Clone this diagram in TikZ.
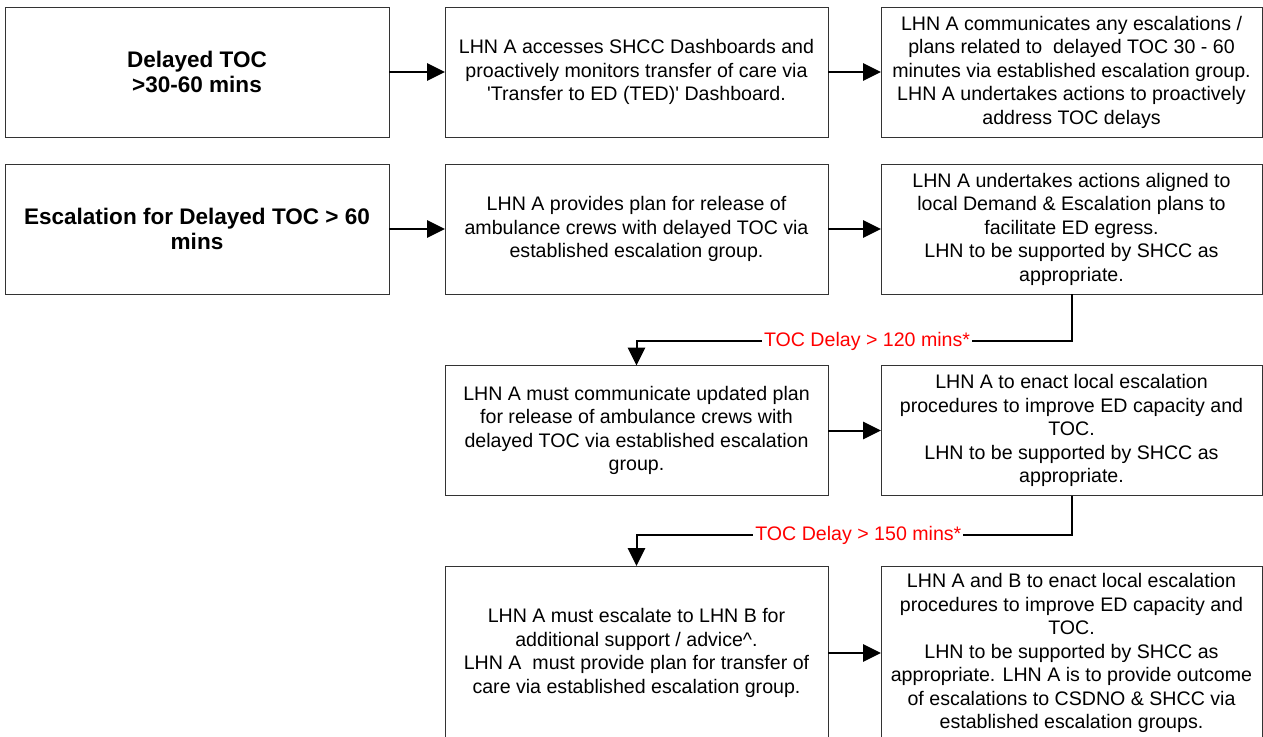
\documentclass[tikz,border=0pt]{standalone}
\usepackage{fontspec}
\setmainfont{Liberation Sans}
\usetikzlibrary{calc}
\usetikzlibrary{arrows.meta}

\begin{document}
\begin{tikzpicture}[x=0.75pt,y=-0.75pt]
    \tikzstyle{box}=[draw=black!80,line width=0.75pt,outer sep=0pt,align=center,minimum height=97.5pt,font=\fontsize{14.7}{17.6}\selectfont]
    \tikzstyle{head box}=[box,font=\fontsize{16.9}{19.3}\selectfont\bfseries]
    \tikzstyle{col one}=[minimum width=288pt]
    \tikzstyle{col two}=[minimum width=287.25pt]
    \tikzstyle{col three}=[minimum width=285.75pt]
    \tikzstyle{tall}=[minimum height=130.5pt]
    \tikzstyle{flow}=[-{Triangle[length=13.5pt,width=13pt]},line width=1.5pt,color=black]
    \tikzstyle{delay text}=[red,fill=white,inner xsep=1.5pt,inner ysep=1pt,font=\fontsize{14.7}{17.6}\selectfont]

    \useasboundingbox (0,0) rectangle (1263,736);

    \coordinate (bend1) at (0,341);
    \coordinate (bend2) at (0,535);

    % Delayed TOC 30-60
    \node[style=head box,style=col one] (A) at (197,72) {Delayed TOC\\>30-60 mins};
    \node[style=box,style=col two] (B) at (636.5,72) {LHN A accesses SHCC Dashboards and\\proactively monitors transfer of care via\\\textquotesingle Transfer to ED (TED)\textquotesingle\ Dashboard.};
    \node[style=box,style=col three] (C) at (1071.5,72) {LHN A communicates any escalations /\\plans related to\ \ delayed TOC 30 - 60\\minutes via established escalation group.\\LHN A undertakes actions to proactively\\address TOC delays};

    % Escalation > 60
    \node[style=head box,style=col one] (D) at (197,229) {Escalation for Delayed TOC > 60\\mins};
    \node[style=box,style=col two] (E) at (636.5,229) {LHN A provides plan for release of\\ambulance crews with delayed TOC via\\established escalation group.};
    \node[style=box,style=col three] (F) at (1071.5,229) {LHN A undertakes actions aligned to\\local Demand \& Escalation plans to\\facilitate ED egress.\\LHN to be supported by SHCC as\\appropriate.};

    % > 120 mins
    \node[style=box,style=col two] (G) at (636.5,430.5) {LHN A must communicate updated plan\\for release of ambulance crews with\\delayed TOC via established escalation\\group.};
    \node[style=box,style=col three] (H) at (1071.5,430.5) {LHN A to enact local escalation\\procedures to improve ED capacity and\\TOC.\\LHN to be supported by SHCC as\\appropriate.};

    % > 150 mins
    \node[style=box,style=col two,style=tall] (I) at (636.5,653) {LHN A must escalate to LHN B for\\additional support / advice\textasciicircum.\\LHN A\ \ must provide plan for transfer of\\care via established escalation group.};
    \node[style=box,style=col three,style=tall] (J) at (1071.5,653) {LHN A and B to enact local escalation\\procedures to improve ED capacity and\\TOC.\\LHN to be supported by SHCC as\\appropriate. LHN A is to provide outcome\\of escalations to CSDNO \& SHCC via\\established escalation groups.};

    % Arrows
    \draw[style=flow] (A) -- (B);
    \draw[style=flow] (B) -- (C);
    \draw[style=flow] (D) -- (E);
    \draw[style=flow] (E) -- (F);
    \draw[style=flow] (G) -- (H);
    \draw[style=flow] (I) -- (J);

    \draw[style=flow] (F.south) -- (F.south |- bend1)
        -- node[style=delay text,pos=0.47] {TOC Delay > 120 mins*} (G.north |- bend1) -- (G.north);
    \draw[style=flow] (H.south) -- (H.south |- bend2)
        -- node[style=delay text,pos=0.49] {TOC Delay > 150 mins*} (I.north |- bend2) -- (I.north);

\end{tikzpicture}
\end{document}
